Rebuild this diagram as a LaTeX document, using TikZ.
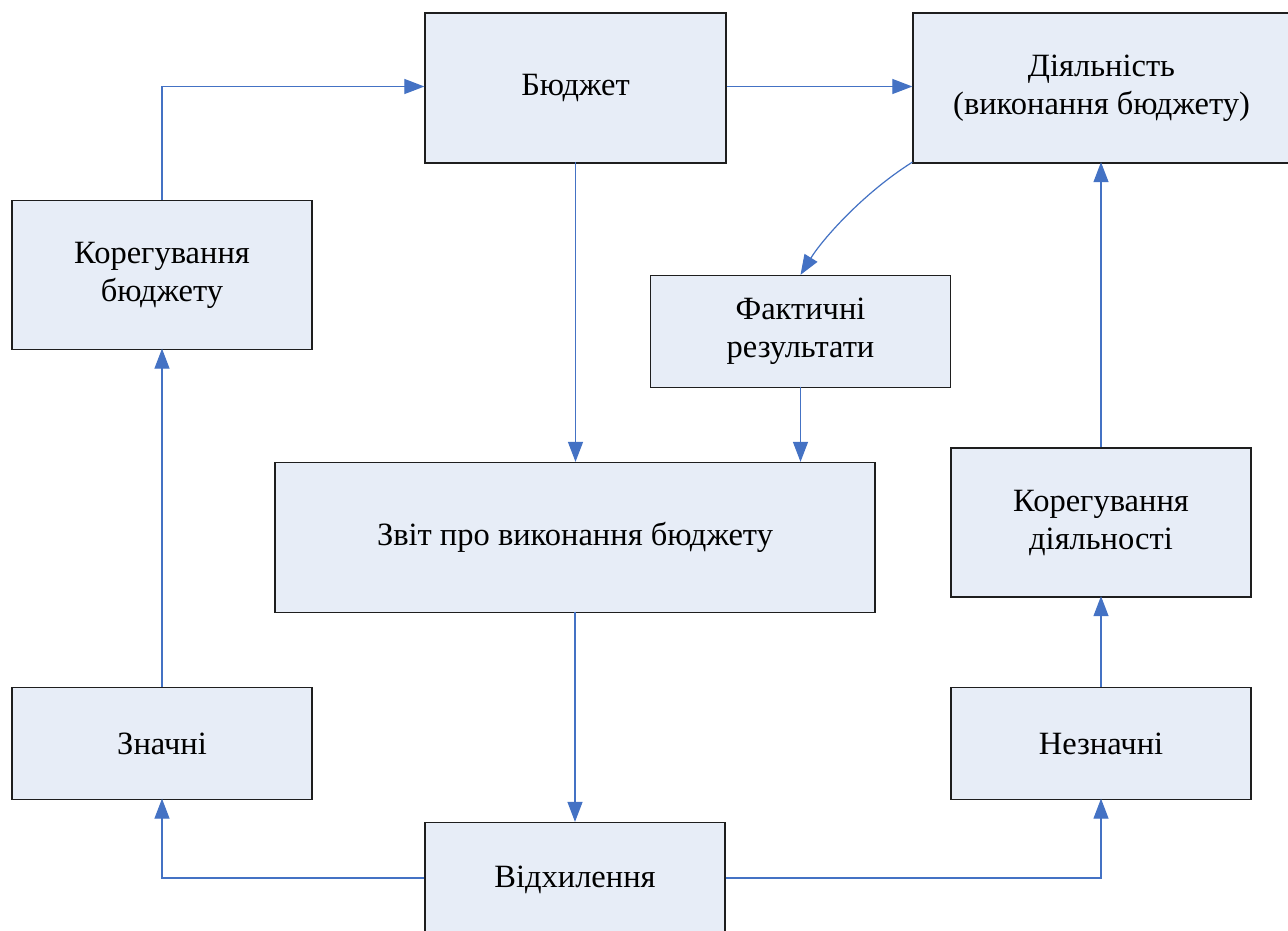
\documentclass[tikz,border=0pt]{standalone}
\usepackage{fontspec}
\setmainfont{Liberation Serif}
\usetikzlibrary{arrows.meta}
\definecolor{boxfill}{HTML}{E7EDF7}
\definecolor{arrowblue}{HTML}{4472C4}
\definecolor{boxline}{HTML}{1E1E1E}
\begin{document}
\begin{tikzpicture}[x=1pt,y=-1pt,
  box/.style={draw=boxline, line width=1.3pt, fill=boxfill, align=center,
    inner sep=0pt, minimum width=300pt, minimum height=150pt,
    font=\fontsize{32.5}{38}\selectfont},
  arr/.style={draw=arrowblue, line width=1.2pt, -{Triangle[length=20pt,width=15pt]}}]
\useasboundingbox (0,0) rectangle (1288,930);
\clip (0,0) rectangle (1288,930);
\fill[white] (0,0) rectangle (1288,930);

\node[box, minimum width=301pt] (bud) at (575.5,88) {Бюджет};
\node[box, minimum width=377pt] (dia) at (1101.5,88) {Діяльність\\(виконання бюджету)};
\node[box, minimum height=149pt] (kb) at (162,275) {Корегування\\бюджету};
\node[box, minimum height=112pt] (fakt) at (800.5,331.5) {Фактичні\\результати};
\node[box, minimum width=600pt] (zvit) at (575,537.5) {Звіт про виконання бюджету};
\node[box, minimum height=149pt] (kd) at (1101,522.5) {Корегування\\діяльності};
\node[box, minimum height=112pt] (zn) at (162,743.5) {Значні};
\node[box, minimum height=112pt] (nzn) at (1101,743.5) {Незначні};
\node[box, minimum height=114pt] (vid) at (575,879.5) {Відхилення};

\path (bud.west) ++(0,-1.5) coordinate (budin);
\path (dia.west) ++(0,-1.5) coordinate (diain);
\path (vid.west) ++(0,-1.5) coordinate (vidw);
\path (vid.east) ++(0,-1.5) coordinate (vide);
\path (bud.south) ++(0,-1.5) coordinate (buds);
\path (dia.south west) ++(0,-1.5) coordinate (dias);
\path (fakt.south) ++(0,-1.5) coordinate (fakts);
\path (zvit.south) ++(0,-1.5) coordinate (zvits);
\path (zn.south) ++(0,-1.5) coordinate (zns);
\path (nzn.south) ++(0,-1.5) coordinate (nzns);
\path (kd.south) ++(0,-1.5) coordinate (kds);
\path (kb.south) ++(0,-1.5) coordinate (kbs);
\path (dia.south) ++(0,-1.5) coordinate (diasouth);

\draw[arr] (kb.north) |- (budin);
\draw[arr] (bud.east |- diain) -- (diain);
\draw[arr] (buds) -- (buds |- zvit.north);
\draw[arr] (dias) .. controls (862,194) and (822,240) .. (fakt.north);
\draw[arr] (fakts) -- (fakts |- zvit.north);
\draw[arr] (zvits) -- (vid.north);
\draw[arr] (vidw) -| (zns);
\draw[arr] (vide) -| (nzns);
\draw[arr] (zn.north) -- (kbs);
\draw[arr] (nzn.north) -- (kds);
\draw[arr] (kd.north) -- (kd.north |- diasouth);
\end{tikzpicture}
\end{document}
